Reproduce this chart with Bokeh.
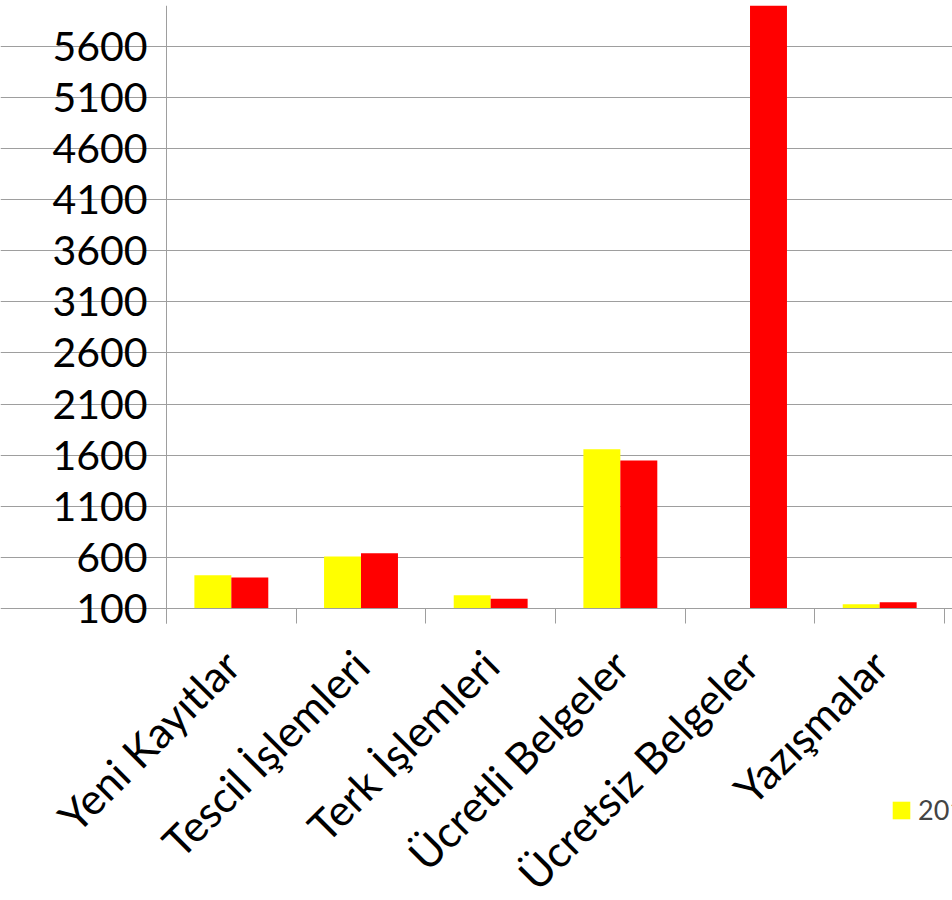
import math
from bokeh.plotting import figure
from bokeh.models import (Range1d, FixedTicker, ColumnDataSource, Legend, LegendItem)
from bokeh.embed import file_html
from bokeh.resources import INLINE

categories = ["Yeni Kayıtlar", "Tescil İşlemleri", "Terk İşlemleri",
              "Ücretli Belgeler", "Ücretsiz Belgeler", "Yazışmalar"]
series_names = ["2011", "2012"]
values_a = [426, 609, 230, 1659, None, 142]
values_b = [403, 641, 195, 1548, 6100, 162]
y_ticks = [100, 600, 1100, 1600, 2100, 2600, 3100, 3600, 4100, 4600, 5100, 5600]

FONT = "Lato"
n = len(categories)
bar_w = 0.285
centers = [i + 0.5 for i in range(n)]
baseline = y_ticks[0]
y_top = 6000

nan = float("nan")
src = ColumnDataSource(dict(
    xa=[c - bar_w / 2 for c in centers],
    xb=[c + bar_w / 2 for c in centers],
    a=[nan if v is None else v for v in values_a],
    b=[nan if v is None else v for v in values_b],
))

# layout geometry (pixels): plot area x 166..944, y 5..608 (100 at y=608)
px_per_cat = 129.67
left_px = 166
W, H = 952, 900
top_px = 5
frame_h = H - top_px
units_per_px = (y_top - baseline) / 603.0
y_start = baseline - (H - 608) * units_per_px
x_start = -left_px / px_per_cat
x_end = (W - left_px) / px_per_cat

p = figure(frame_width=W, frame_height=frame_h, output_backend="svg",
           toolbar_location=None, x_range=Range1d(x_start, x_end),
           y_range=Range1d(y_start, y_top),
           min_border_top=top_px, min_border_left=0, min_border_right=0,
           min_border_bottom=0)
p.outline_line_color = None
p.background_fill_color = "white"
p.border_fill_color = "white"

ra = p.vbar(x="xa", top="a", bottom=baseline, width=bar_w, source=src,
            fill_color="#FFFF00", line_color=None)
rb = p.vbar(x="xb", top="b", bottom=baseline, width=bar_w, source=src,
            fill_color="#FF0000", line_color=None)

grey = "#9E9E9E"

# y axis at x = 0
p.yaxis.fixed_location = 0
p.yaxis.ticker = FixedTicker(ticks=y_ticks)
p.yaxis.bounds = (baseline - 15 * units_per_px, y_top)
p.yaxis.axis_line_color = grey
p.yaxis.major_tick_line_color = grey
p.yaxis.major_tick_out = 14
p.yaxis.major_tick_in = 0
p.yaxis.minor_tick_line_color = None
p.yaxis.major_label_standoff = 5
p.yaxis.major_label_text_font = FONT
p.yaxis.major_label_text_font_size = "41px"
p.yaxis.major_label_text_color = "black"
p.ygrid.grid_line_color = grey
p.ygrid.ticker = FixedTicker(ticks=y_ticks)
p.ygrid.bounds = (0, n)
p.xgrid.grid_line_color = None

# x axis at the value baseline: labels at category centres, ticks at boundaries
p.xaxis.fixed_location = baseline
p.xaxis.bounds = (0, n)
p.xaxis.ticker = FixedTicker(ticks=centers, minor_ticks=list(range(n + 1)))
p.xaxis.major_label_overrides = {c: lab for c, lab in zip(centers, categories)}
p.xaxis.major_tick_line_color = None
p.xaxis.major_tick_out = 0
p.xaxis.major_tick_in = 0
p.xaxis.minor_tick_line_color = grey
p.xaxis.minor_tick_out = 15
p.xaxis.minor_tick_in = 0
p.xaxis.axis_line_color = grey
p.xaxis.major_label_orientation = math.pi / 4
p.xaxis.major_label_standoff = 34
p.xaxis.major_label_text_font = FONT
p.xaxis.major_label_text_font_size = "43px"
p.xaxis.major_label_text_color = "black"

legend = Legend(items=[LegendItem(label=series_names[0], renderers=[ra]),
                       LegendItem(label=series_names[1], renderers=[rb])],
                location=(890, 74), orientation="horizontal",
                glyph_width=22, glyph_height=22, label_height=22,
                label_text_font=FONT, label_text_font_size="27px",
                label_standoff=6, spacing=60, padding=0, margin=0,
                border_line_color=None, background_fill_alpha=0)
p.add_layout(legend, "center")

open("out.html", "w").write(file_html(p, INLINE))
